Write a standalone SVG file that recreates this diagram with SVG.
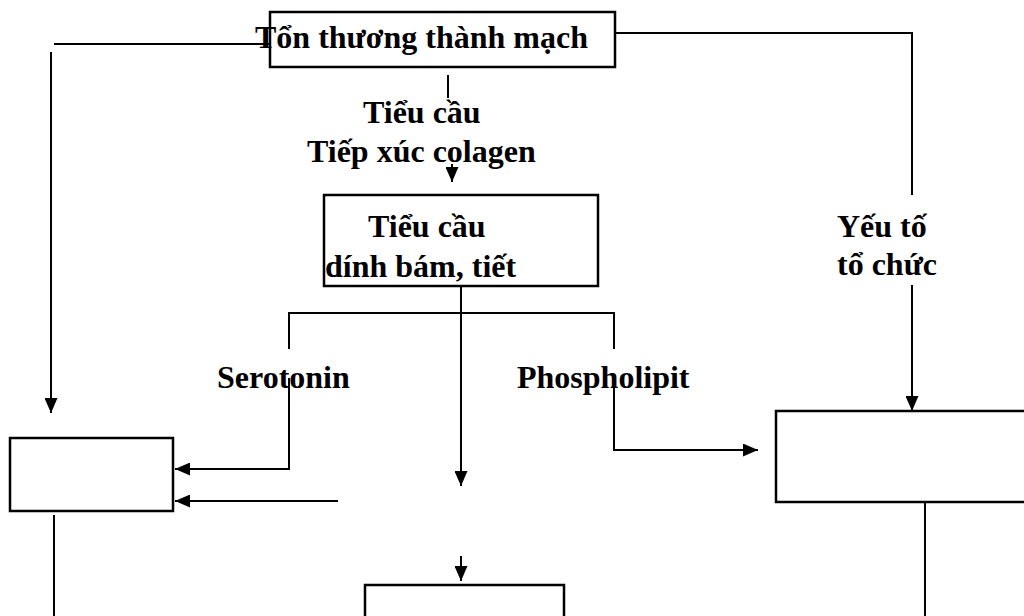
<svg xmlns="http://www.w3.org/2000/svg" width="1024" height="616" viewBox="0 0 1024 616">
<style>
.box{fill:none;stroke:#000;stroke-width:2.5}
.ln{fill:none;stroke:#000;stroke-width:2}
.t{font-family:"Liberation Serif","Times New Roman",serif;font-weight:bold;font-size:32px;fill:#000}
</style>
<defs>
<marker id="ah" viewBox="0 0 15 13" refX="15" refY="6.5" markerWidth="15" markerHeight="13" markerUnits="userSpaceOnUse" orient="auto">
<path d="M0,0 L15,6.5 L0,13 z" fill="#000"/>
</marker>
</defs>
<rect width="1024" height="616" fill="#fff"/>
<g id="n-top">
<rect class="box" x="270" y="12" width="345" height="55"/>
<text class="t" x="255" y="48">Tổn thương thành mạch</text>
</g>
<g id="n-label-tieucau">
<text class="t" x="363" y="123">Tiểu cầu</text>
<text class="t" x="307" y="162">Tiếp xúc colagen</text>
</g>
<g id="n-platelet">
<rect class="box" x="324" y="195" width="274" height="91"/>
<text class="t" x="368" y="237">Tiểu cầu</text>
<text class="t" x="325" y="277">dính bám, tiết</text>
</g>
<g id="n-yeuto">
<text class="t" x="837" y="237">Yếu tố</text>
<text class="t" x="837" y="275">tổ chức</text>
</g>
<g id="n-serotonin"><text class="t" x="217" y="388">Serotonin</text></g>
<g id="n-phospholipit"><text class="t" x="517" y="388">Phospholipit</text></g>
<g id="n-left"><rect class="box" x="10" y="438" width="163" height="73"/></g>
<g id="n-right"><rect class="box" x="776" y="411" width="260" height="91"/></g>
<g id="n-bottom"><rect class="box" x="365" y="585" width="199" height="40"/></g>
<g id="connectors">
<line class="ln" x1="270" y1="44" x2="54" y2="44"/>
<line class="ln" x1="51" y1="52" x2="51" y2="413" marker-end="url(#ah)"/>
<polyline class="ln" points="615,33 912,33 912,195"/>
<line class="ln" x1="912" y1="285" x2="912" y2="411" marker-end="url(#ah)"/>
<line class="ln" x1="448" y1="75" x2="448" y2="98"/>
<line class="ln" x1="452" y1="164" x2="452" y2="182" marker-end="url(#ah)"/>
<line class="ln" x1="461" y1="286" x2="461" y2="486" marker-end="url(#ah)"/>
<polyline class="ln" points="289,349 289,313 614,313 614,349"/>
<polyline class="ln" points="289,378 289,469 175,469" marker-end="url(#ah)"/>
<line class="ln" x1="338" y1="501" x2="175" y2="501" marker-end="url(#ah)"/>
<polyline class="ln" points="614,378 614,450 758,450" marker-end="url(#ah)"/>
<line class="ln" x1="54" y1="515" x2="54" y2="616"/>
<line class="ln" x1="461" y1="556" x2="461" y2="581" marker-end="url(#ah)"/>
<line class="ln" x1="925" y1="502" x2="925" y2="616"/>
</g>
</svg>
